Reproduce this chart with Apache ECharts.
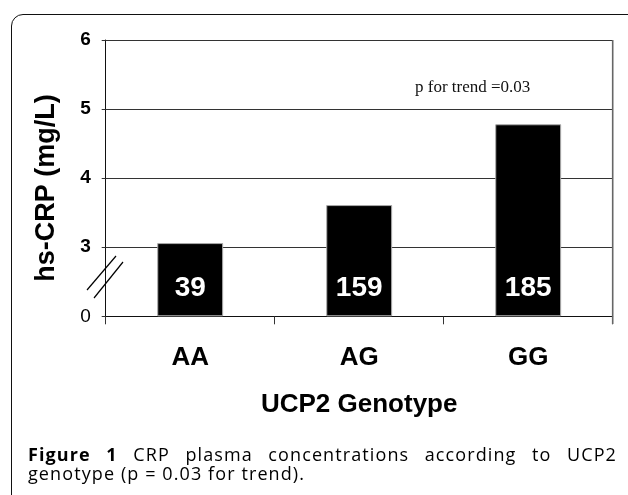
<!DOCTYPE html>
<html>
<head>
<meta charset="utf-8">
<script src="https://cdn.jsdelivr.net/npm/echarts@6/dist/echarts.min.js"></script>
<style>
  html, body { margin: 0; padding: 0; background: #fff; }
  #wrap { position: relative; width: 628px; height: 495px; overflow: hidden; }
  #chart { position: absolute; left: 0; top: 0; width: 628px; height: 495px; }
  #frame {
    position: absolute; left: 11px; top: 14px; width: 630px; height: 520px;
    border: 1.3px solid #111; border-radius: 12px 12px 0 0; box-sizing: border-box;
  }
  .cap {
    position: absolute; left: 28px; width: 589px; white-space: nowrap;
    font-family: "Open Sans", sans-serif; font-size: 18px; line-height: 20px;
    letter-spacing: 1.1px; color: #000;
  }
  #cap1 { top: 444px; text-align: justify; text-align-last: justify; white-space: normal; }
  #cap2 { top: 463px; }
  .cap b { font-weight: 700; }
</style>
</head>
<body>
<div id="wrap">
  <div id="frame"></div>
  <div id="chart"></div>
  <div class="cap" id="cap1"><b>Figure 1</b> CRP plasma concentrations according to UCP2</div>
  <div class="cap" id="cap2">genotype (p = 0.03 for trend).</div>
</div>
<script>
// data
const genotypes = ['AA', 'AG', 'GG']
const crpValues = [3.06, 3.61, 4.78]   // hs-CRP mg/L
const nCounts = [39, 159, 185]         // n per group, printed in the bars
const yTickLabels = ['0', '3', '4', '5', '6']  // broken axis: 0, then 3..6
const breakShift = 2                   // values >= 3 drawn at (v - 2)

const chart = echarts.init(document.getElementById('chart'))
const font = 'Liberation Sans, Arial, sans-serif'

const option = {
  animation: false,
  grid: { left: 105.7, right: 15.3, top: 40, bottom: 178.7 },
  xAxis: {
    type: 'category',
    data: genotypes,
    name: 'UCP2 Genotype',
    nameLocation: 'middle',
    nameGap: 76,
    nameTextStyle: { fontFamily: font, fontWeight: 'bold', fontSize: 26, color: '#000' },
    axisLine: { lineStyle: { color: '#111', width: 1 } },
    axisTick: { show: true, length: 8, lineStyle: { color: '#333' } },
    axisLabel: {
      margin: 29, fontFamily: font, fontWeight: 'bold', fontSize: 26,
      lineHeight: 26, color: '#000'
    }
  },
  yAxis: {
    type: 'value',
    min: 0, max: 4, interval: 1,
    axisLine: { show: true, lineStyle: { color: '#111', width: 1 } },
    axisTick: { show: true, length: 4, lineStyle: { color: '#333' } },
    splitLine: { show: true, lineStyle: { color: '#333', width: 1 } },
    axisLabel: {
      margin: 15,
      formatter: v => (v === 0 ? '{n|' : '{b|') + yTickLabels[v] + '}',
      rich: {
        b: { fontFamily: font, fontWeight: 'bold', fontSize: 19, color: '#000' },
        n: { fontFamily: font, fontSize: 19, color: '#000' }
      }
    }
  },
  series: [{
    type: 'bar',
    barWidth: '39%',
    data: crpValues.map(v => v - breakShift),
    itemStyle: { color: '#000', borderColor: '#aaa', borderWidth: 1 },
    label: {
      show: true,
      position: 'insideBottom',
      distance: 14,
      formatter: p => String(nCounts[p.dataIndex]),
      fontFamily: font, fontWeight: 'bold', fontSize: 28, color: '#fff'
    }
  }],
  graphic: [
    // right border of the plot area
    { type: 'line', shape: { x1: 612.7, y1: 40, x2: 612.7, y2: 324 },
      style: { stroke: '#666', lineWidth: 1.6 }, z: 10 },
    // axis break marks
    { type: 'line', shape: { x1: 87, y1: 290, x2: 116, y2: 256 },
      style: { stroke: '#000', lineWidth: 1.2 }, z: 10 },
    { type: 'line', shape: { x1: 94, y1: 298, x2: 123, y2: 262 },
      style: { stroke: '#000', lineWidth: 1.2 }, z: 10 },
    { type: 'text', x: 47, y: 188, rotation: Math.PI / 2,
      style: { text: 'hs-CRP (mg/L)', font: 'bold 27px ' + font, fill: '#000',
        align: 'center', verticalAlign: 'middle' } },
    { type: 'text', x: 415, y: 88,
      style: { text: 'p for trend =0.03', font: '17px Liberation Serif, Times New Roman, serif',
        fill: '#111', align: 'left', verticalAlign: 'middle' } }
  ]
}

chart.setOption(option)
</script>
</body>
</html>
